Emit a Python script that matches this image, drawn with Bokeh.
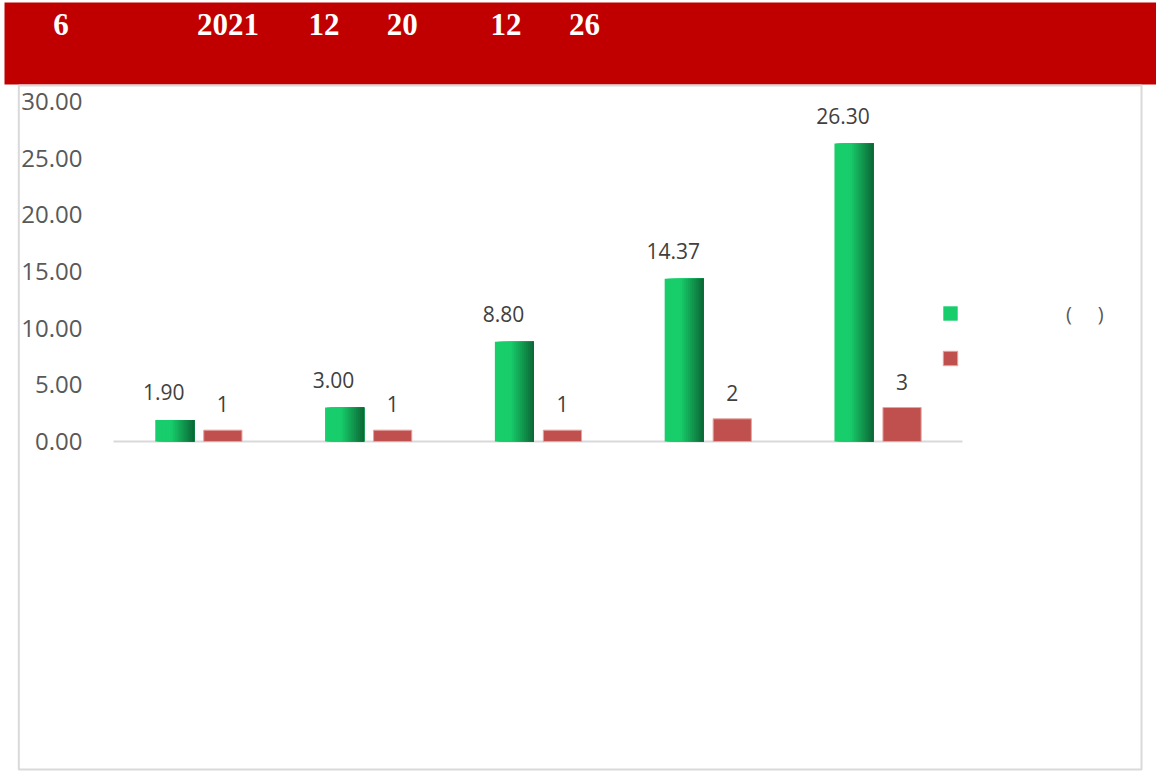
from bokeh.plotting import figure
from bokeh.models import (ColumnDataSource, BoxAnnotation, Label, LabelSet, Legend,
                          LegendItem, FixedTicker, PrintfTickFormatter, Range1d)
from bokeh.core.properties import value
from bokeh.embed import file_html
from bokeh.resources import INLINE

# ---------------- data ----------------
NB = "\u00a0"
categories = ["", "", "", "", ""]            # category names not legible in the source
turnover = [1.90, 3.00, 8.80, 14.37, 26.30]  # green series
counts = [1, 1, 1, 2, 3]                     # red series
y_ticks = [0, 5, 10, 15, 20, 25, 30]
title_parts = ["6", "2021", "12", "20", "12", "26"]   # legible parts of the banner title
legend_labels = [NB * 19 + "(" + NB * 5 + ")", NB]

# ---------------- layout constants (page pixels) ----------------
W, H = 1156, 771
X0 = 113            # left end of category axis
PX_PER_CAT = 169.8
Y0, Y30 = 441, 101  # pixel rows of values 0 and 30
PX_PER_UNIT = (Y0 - Y30) / 30.0
title_centres = [60.5, 227.5, 323.5, 401.7, 505.5, 584]

x_start = -X0 / PX_PER_CAT
x_end = (W - X0) / PX_PER_CAT
y_end = 30 + Y30 / PX_PER_UNIT
y_start = -(H - Y0) / PX_PER_UNIT

p = figure(width=W, height=H, output_backend="svg", toolbar_location=None,
           x_range=Range1d(x_start, x_end), y_range=Range1d(y_start, y_end),
           x_axis_location=None,
           min_border_left=0, min_border_right=0, min_border_top=0, min_border_bottom=0)
p.xgrid.visible = False
p.ygrid.visible = False
p.outline_line_color = None
p.background_fill_color = "white"
p.border_fill_color = "white"


def sy(page_y):
    return H - page_y


# banner and chart box
p.add_layout(BoxAnnotation(left=4, right=W, top=sy(2), bottom=sy(84),
                           left_units="screen", right_units="screen",
                           top_units="screen", bottom_units="screen",
                           fill_color="#C00000", fill_alpha=1.0, line_color=None))
p.add_layout(BoxAnnotation(left=18.3, right=1141, top=sy(85), bottom=sy(769),
                           left_units="screen", right_units="screen",
                           top_units="screen", bottom_units="screen",
                           fill_color=None, fill_alpha=0, line_color="#D9D9D9",
                           line_width=2, line_alpha=1))
for part, cx in zip(title_parts, title_centres):
    p.add_layout(Label(x=cx, y=sy(24), x_units="screen", y_units="screen", text=part,
                       text_font="Liberation Serif", text_font_style="bold",
                       text_font_size="31px", text_color="white",
                       text_align="center", text_baseline="alphabetic"))

# y axis drawn at the left end of the category axis
ax = p.yaxis[0]
ax.fixed_location = 0
ax.ticker = FixedTicker(ticks=y_ticks)
ax.formatter = PrintfTickFormatter(format="%.2f")
ax.axis_line_color = None
ax.major_tick_line_color = None
ax.minor_tick_line_color = None
ax.major_tick_out = 0
ax.major_tick_in = 0
ax.major_label_standoff = 31
ax.major_label_text_font = "Open Sans"
ax.major_label_text_font_size = "24px"
ax.major_label_text_color = "#595959"

# baseline
n_cat = len(categories)
p.segment(x0=[0], y0=[0], x1=[n_cat], y1=[0], line_color="#D9D9D9", line_width=2)

# green bars with horizontal gradient (stacked left-anchored slices)
G_OFF, G_W = -0.139, 0.23
R_OFF, R_W = 0.144, 0.225
n_sl = 20
bright = (24, 205, 107)
dark = (11, 107, 55)
grad = []
for k in range(n_sl):
    t = k / (n_sl - 1)
    f = 0.0 if t < 0.4 else (t - 0.4) / 0.6
    c = tuple(int(round(bright[j] + (dark[j] - bright[j]) * f)) for j in range(3))
    grad.append("#%02x%02x%02x" % c)
sw = G_W / n_sl
gl, gr, gt, gc = [], [], [], []
for k in range(n_sl):
    for i, v in enumerate(turnover):
        left = i + 0.5 + G_OFF - G_W / 2
        gl.append(left + k * sw)
        gr.append(left + G_W)
        gt.append(v)
        gc.append(grad[k])
gsrc = ColumnDataSource(dict(left=gl, right=gr, top=gt, color=gc))
g_r = p.quad(left="left", right="right", top="top", bottom=0, fill_color="color",
             line_color=None, source=gsrc)

rsrc = ColumnDataSource(dict(x=[i + 0.5 + R_OFF for i in range(n_cat)], top=counts))
r_r = p.vbar(x="x", top="top", bottom=0, width=R_W, fill_color="#C0504D",
             line_color="#E3A3A1", line_width=1, source=rsrc)

# data labels
glab = ColumnDataSource(dict(x=[i + 0.5 + G_OFF for i in range(n_cat)], y=turnover,
                             t=["%.2f" % v for v in turnover]))
p.add_layout(LabelSet(x="x", y="y", text="t", source=glab, x_offset=-11, y_offset=19.5,
                      text_align="center", text_baseline="alphabetic",
                      text_font=value("Open Sans"), text_font_size=value("21px"),
                      text_color="#404040"))
rlab = ColumnDataSource(dict(x=[i + 0.5 + R_OFF for i in range(n_cat)], y=counts,
                             t=["%d" % v for v in counts]))
p.add_layout(LabelSet(x="x", y="y", text="t", source=rlab, y_offset=18,
                      text_align="center", text_baseline="alphabetic",
                      text_font=value("Open Sans"), text_font_size=value("21px"),
                      text_color="#404040"))

# legend
legend = Legend(items=[LegendItem(label=legend_labels[0], renderers=[g_r], index=7 * n_cat),
                       LegendItem(label=legend_labels[1], renderers=[r_r])],
                location=(941.2, sy(371.5)), orientation="vertical",
                glyph_width=18, glyph_height=18, label_height=14, label_standoff=8,
                spacing=18, padding=0, margin=0, border_line_color=None,
                background_fill_alpha=0,
                label_text_font="Open Sans", label_text_font_size="20px",
                label_text_color="#595959")
p.add_layout(legend)

open("out.html", "w").write(file_html(p, INLINE))
